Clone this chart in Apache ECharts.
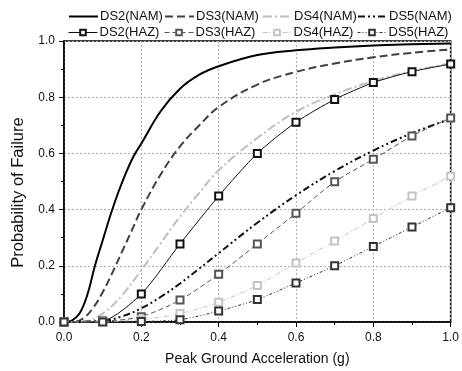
<!DOCTYPE html>
<html><head><meta charset="utf-8">
<script src="https://cdn.jsdelivr.net/npm/echarts@6/dist/echarts.min.js"></script>
<style>html,body{margin:0;padding:0;background:#fff}#c{width:462px;height:371px}</style>
</head><body><div id="c"></div>
<script>
// NAM curves (smooth fragility curves)
const ds2NamX = [0, 0.02, 0.04, 0.06, 0.08, 0.1, 0.12, 0.14, 0.16, 0.18, 0.2, 0.25, 0.3, 0.35, 0.4, 0.5, 0.6, 0.7, 0.8, 0.9, 1.0];
const ds2NamY = [0, 0.005, 0.03, 0.095, 0.2, 0.29, 0.38, 0.46, 0.53, 0.59, 0.635, 0.75, 0.83, 0.88, 0.91, 0.95, 0.967, 0.977, 0.984, 0.988, 0.991];
const ds3NamX = [0, 0.025, 0.05, 0.075, 0.1, 0.125, 0.15, 0.175, 0.2, 0.25, 0.3, 0.35, 0.4, 0.5, 0.6, 0.7, 0.8, 0.9, 1.0];
const ds3NamY = [0, 0.001, 0.013, 0.05, 0.106, 0.175, 0.25, 0.325, 0.40, 0.525, 0.625, 0.70, 0.765, 0.845, 0.89, 0.92, 0.942, 0.958, 0.97];
const ds4NamX = [0, 0.05, 0.1, 0.15, 0.2, 0.25, 0.3, 0.35, 0.4, 0.5, 0.6, 0.7, 0.8, 0.9, 1.0];
const ds4NamY = [0, 0.002, 0.03, 0.095, 0.185, 0.28, 0.375, 0.46, 0.54, 0.655, 0.748, 0.81, 0.857, 0.893, 0.92];
const ds5NamX = [0, 0.1, 0.15, 0.2, 0.25, 0.3, 0.35, 0.4, 0.5, 0.6, 0.7, 0.8, 0.9, 1.0];
const ds5NamY = [0, 0.004, 0.02, 0.049, 0.089, 0.137, 0.19, 0.245, 0.353, 0.451, 0.537, 0.61, 0.672, 0.723];
// HAZ curves (with markers)
const hazX = [0, 0.1, 0.2, 0.3, 0.4, 0.5, 0.6, 0.7, 0.8, 0.9, 1.0];
const ds2HazY = [0, 0.004, 0.10, 0.278, 0.448, 0.60, 0.711, 0.792, 0.852, 0.891, 0.918];
const ds3HazY = [0, 0.002, 0.019, 0.078, 0.17, 0.278, 0.387, 0.499, 0.579, 0.662, 0.726];
const ds4HazY = [0, 0.001, 0.008, 0.03, 0.07, 0.13, 0.21, 0.288, 0.368, 0.448, 0.519];
const ds5HazY = [0, 0, 0.002, 0.008, 0.039, 0.08, 0.139, 0.2, 0.269, 0.338, 0.407];
const namNames = ['DS2(NAM)', 'DS3(NAM)', 'DS4(NAM)', 'DS5(NAM)'];
const hazNames = ['DS2(HAZ)', 'DS3(HAZ)', 'DS4(HAZ)', 'DS5(HAZ)'];
const xTicks = ['0.0', '0.2', '0.4', '0.6', '0.8', '1.0'];

const zip = (xs, ys) => xs.map((x, i) => [x, ys[i]]);
const FONT = '"Liberation Sans", Arial, sans-serif';

const namStyle = [
  { color: '#000', dash: 'solid' },
  { color: '#404040', dash: [8, 4] },
  { color: '#bfbfbf', dash: [9, 3, 2, 3] },
  { color: '#111', dash: [7, 3, 2, 3, 2, 3] }
];
const hazStyle = [
  { color: '#111', dash: 'solid' },
  { color: '#555', dash: [5, 3] },
  { color: '#c4c4c4', dash: [5, 2, 1, 2] },
  { color: '#333', dash: [3, 2, 1, 2, 1, 2] }
];

function nam(i, xs, ys) {
  const s = namStyle[i];
  return { name: namNames[i], type: 'line', data: zip(xs, ys), smooth: 0.4, symbol: 'none', showSymbol: false,
    lineStyle: { color: s.color, width: 2, type: s.dash }, itemStyle: { color: s.color }, z: 3 };
}
function haz(i, ys) {
  const s = hazStyle[i];
  return { name: hazNames[i], type: 'line', data: zip(hazX, ys), smooth: 0.25, symbol: 'emptyRect', symbolSize: 7,
    lineStyle: { color: s.color, width: 1, type: s.dash }, itemStyle: { color: s.color, borderColor: s.color, borderWidth: 1 }, z: 4 };
}

const colLeft = [68, 164, 262, 357];
const legends = [];
for (let i = 0; i < 4; i++) {
  legends.push({ data: [namNames[i]], left: colLeft[i], top: 10, padding: 0, itemWidth: 29, itemHeight: 8,
    lineStyle: { width: 2 }, itemStyle: { opacity: 0 },
    textStyle: { fontSize: 13, color: '#111', fontFamily: FONT, padding: [0, 0, 0, -3] } });
  legends.push({ data: [hazNames[i]], left: colLeft[i], top: 26, padding: 0, itemWidth: 29, itemHeight: 7,
    lineStyle: { width: 1 }, itemStyle: { borderWidth: 1 },
    textStyle: { fontSize: 13, color: '#111', fontFamily: FONT, padding: [0, 0, 0, -3] } });
}

const chart = echarts.init(document.getElementById('c'), null, { renderer: 'canvas' });
chart.setOption({
  animation: false,
  textStyle: { fontFamily: FONT },
  legend: legends,
  grid: { left: 64, right: 9, top: 41, bottom: 45, show: true, borderColor: '#000', borderWidth: 1.5, containLabel: false },
  xAxis: {
    type: 'value', min: 0, max: 1, interval: 0.2,
    name: 'Peak Ground Acceleration (g)', nameLocation: 'middle', nameGap: 30,
    nameTextStyle: { fontSize: 14, color: '#111', fontFamily: FONT },
    axisLine: { lineStyle: { color: '#000', width: 1.5 } },
    axisTick: { show: true, length: 5, lineStyle: { color: '#000', width: 1 } },
    minorTick: { show: true, splitNumber: 2, length: 3, lineStyle: { color: '#000', width: 1 } },
    axisLabel: { fontSize: 12, color: '#111', margin: 10, fontFamily: FONT,
      formatter: v => xTicks[Math.round(v / 0.2)] },
    splitLine: { show: true, lineStyle: { color: '#b0b0b0', width: 1, type: [2, 2] } }
  },
  yAxis: {
    type: 'value', min: 0, max: 1, interval: 0.2,
    name: 'Probability of Failure', nameLocation: 'middle', nameGap: 37,
    nameTextStyle: { fontSize: 16.5, color: '#111', fontFamily: FONT, padding: [0, 22, 0, 0] },
    axisLine: { show: true, lineStyle: { color: '#000', width: 1.5 } },
    axisTick: { show: true, length: 5, lineStyle: { color: '#000', width: 1 } },
    minorTick: { show: true, splitNumber: 2, length: 3, lineStyle: { color: '#000', width: 1 } },
    axisLabel: { fontSize: 12, color: '#111', margin: 9, fontFamily: FONT,
      formatter: v => v.toFixed(1) },
    splitLine: { show: true, lineStyle: { color: '#b0b0b0', width: 1, type: [2, 2] } }
  },
  series: [
    nam(0, ds2NamX, ds2NamY),
    nam(1, ds3NamX, ds3NamY),
    nam(2, ds4NamX, ds4NamY),
    nam(3, ds5NamX, ds5NamY),
    haz(0, ds2HazY),
    haz(1, ds3HazY),
    haz(2, ds4HazY),
    haz(3, ds5HazY)
  ]
});
</script></body></html>
